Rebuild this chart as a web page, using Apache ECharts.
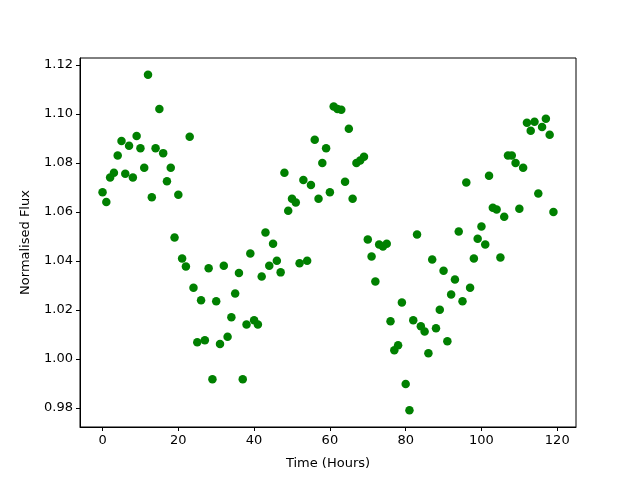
<!DOCTYPE html>
<html>
<head>
<meta charset="utf-8">
<script src="https://cdn.jsdelivr.net/npm/echarts@6/dist/echarts.min.js"></script>
<style>
  html, body { margin: 0; padding: 0; background: #fff; }
  #main { width: 640px; height: 480px; }
</style>
</head>
<body>
<div id="main"></div>
<script>
// hours 0..119, one reading per hour
var hours = [];
for (var h = 0; h < 120; h++) hours.push(h);

// normalised flux
var flux = [
  1.068, 1.064, 1.074, 1.076, 1.083, 1.089, 1.0756, 1.087, 1.074, 1.091,
  1.086, 1.078, 1.116, 1.066, 1.086, 1.102, 1.084, 1.0725, 1.078, 1.0495,
  1.067, 1.041, 1.0377, 1.0907, 1.029, 1.0068, 1.0239, 1.0076, 1.037, 0.9917,
  1.0235, 1.006, 1.038, 1.009, 1.017, 1.0267, 1.035, 0.9917, 1.014, 1.043,
  1.0157, 1.014, 1.0336, 1.0516, 1.038, 1.047, 1.040, 1.0353, 1.076, 1.0605,
  1.0654, 1.0638, 1.039, 1.073, 1.040, 1.071, 1.0895, 1.0654, 1.080, 1.086,
  1.068, 1.103, 1.102, 1.1017, 1.0723, 1.094, 1.0654, 1.080, 1.081, 1.0825,
  1.0487, 1.0418, 1.0316, 1.0467, 1.0459, 1.047, 1.0153, 1.0035, 1.0055, 1.023,
  0.9897, 0.979, 1.0157, 1.0508, 1.0133, 1.0112, 1.0023, 1.0406, 1.0125, 1.020,
  1.036, 1.0072, 1.0263, 1.0324, 1.052, 1.0235, 1.072, 1.029, 1.041, 1.049,
  1.054, 1.0467, 1.0748, 1.0617, 1.061, 1.0414, 1.058, 1.083, 1.083, 1.080,
  1.0613, 1.078, 1.0964, 1.0931, 1.0968, 1.0675, 1.0947, 1.098, 1.0915, 1.060
];

var xTicks = [0, 20, 40, 60, 80, 100, 120];
var yTicks = [0.98, 1.00, 1.02, 1.04, 1.06, 1.08, 1.10, 1.12];

// matplotlib style 5% margins around the data
function pad(arr) {
  var lo = Math.min.apply(null, arr), hi = Math.max.apply(null, arr);
  var m = (hi - lo) * 0.05;
  return [lo - m, hi + m];
}
var xr = pad(hours), yr = pad(flux);

var pts = hours.map(function (x, i) { return [x, flux[i]]; });

var font = 'DejaVu Sans';
var chart = echarts.init(document.getElementById('main'));
chart.setOption({
  animation: false,
  backgroundColor: '#fff',
  grid: {
    left: 80, right: 64, top: 58, bottom: 53,
    show: true, borderColor: '#000', borderWidth: 1
  },
  xAxis: {
    type: 'value',
    min: xr[0], max: xr[1],
    name: 'Time (Hours)',
    nameLocation: 'middle',
    nameGap: 30,
    nameTextStyle: { color: '#000', fontFamily: font, fontSize: 13 },
    axisLine: { show: true, onZero: false, lineStyle: { color: '#000' } },
    axisTick: { show: true, length: 4, lineStyle: { color: '#000' }, customValues: xTicks },
    axisLabel: { color: '#000', fontFamily: font, fontSize: 13, margin: 7, customValues: xTicks },
    splitLine: { show: false }
  },
  yAxis: {
    type: 'value',
    min: yr[0], max: yr[1],
    name: 'Normalised Flux',
    nameLocation: 'middle',
    nameGap: 48,
    nameTextStyle: { color: '#000', fontFamily: font, fontSize: 13 },
    axisLine: { show: true, onZero: false, lineStyle: { color: '#000' } },
    axisTick: { show: true, length: 4, lineStyle: { color: '#000' }, customValues: yTicks },
    axisLabel: {
      color: '#000', fontFamily: font, fontSize: 13, margin: 7, customValues: yTicks,
      formatter: function (v) { return v.toFixed(2); }
    },
    splitLine: { show: false }
  },
  series: [{
    type: 'scatter',
    data: pts,
    symbolSize: 8.5,
    itemStyle: { color: '#008000', opacity: 1 }
  }]
});
</script>
</body>
</html>
